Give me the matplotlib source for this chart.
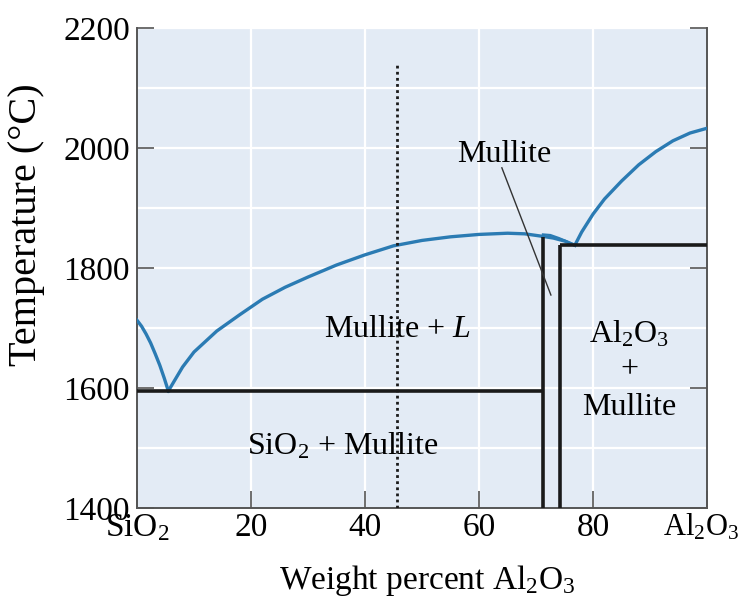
import matplotlib
matplotlib.use("Agg")
import matplotlib.pyplot as plt
import numpy as np

# ---- data ----
liq_left_x = [0, 0.8, 1.6, 2.4, 3.2, 4.0, 4.8, 5.5]
liq_left_T = [1713, 1703, 1690, 1675, 1657, 1638, 1616, 1595]

liq_mid_x = [5.5, 8, 10, 14, 18, 22, 26, 30, 35, 40, 45, 50, 55, 60, 65, 68, 71, 73, 75, 76.8]
liq_mid_T = [1595, 1635, 1660, 1695, 1722, 1748, 1768, 1785, 1805, 1822, 1837, 1846, 1852, 1856, 1858, 1857, 1853, 1850, 1845, 1838]

hump_x = [71.2, 72.5, 74, 75.5, 76.8]
hump_T = [1856, 1855, 1850, 1844, 1838]

liq_right_x = [76.8, 78, 80, 82, 85, 88, 91, 94, 97, 100]
liq_right_T = [1838, 1860, 1890, 1915, 1945, 1972, 1994, 2012, 2025, 2033]

eutectic1_x = [0, 71.2]
eutectic1_T = [1595, 1595]
mullite_left_x = [71.2, 71.2]
mullite_left_T = [1400, 1852]
mullite_right_x = [74.2, 74.2]
mullite_right_T = [1400, 1838]
eutectic2_x = [74.2, 100]
eutectic2_T = [1838, 1838]

dotted_x = [45.6, 45.6]
dotted_T = [1400, 2138]

pointer_x = [64.0, 72.6]
pointer_T = [1967, 1755]

xticks = [0, 20, 40, 60, 80, 100]
xticklabels = ["SiO$_2$", "20", "40", "60", "80", "Al$_2$O$_3$"]
yticks = [1400, 1600, 1800, 2000, 2200]
ygrid_minor = [1500, 1700, 1900, 2100]

# ---- style ----
plt.rcParams['font.family'] = ['Liberation Serif', 'DejaVu Serif']
plt.rcParams['mathtext.fontset'] = 'custom'
plt.rcParams['mathtext.rm'] = 'Liberation Serif'
plt.rcParams['mathtext.it'] = 'Liberation Serif:italic'

blue = '#2b7bb3'
bg = '#e3ebf5'
black = '#1a1a1a'
spine_c = '#555555'

fig = plt.figure(figsize=(7.42, 6.0), dpi=100)
ax = fig.add_axes([0.1846, 0.1533, 0.7684, 0.80])
ax.set_facecolor(bg)
ax.set_xlim(0, 100)
ax.set_ylim(1400, 2200)

# grid
for gx in [20, 40, 60, 80]:
    ax.axvline(gx, color='white', lw=1.6, zorder=0.5)
for gy in ygrid_minor + yticks[1:]:
    ax.axhline(gy, color='white', lw=1.6, zorder=0.5)

# curves
ax.plot(liq_left_x, liq_left_T, color=blue, lw=2.4, zorder=3)
ax.plot(liq_mid_x, liq_mid_T, color=blue, lw=2.4, zorder=3)
ax.plot(hump_x, hump_T, color=blue, lw=1.6, zorder=3)
ax.plot(liq_right_x, liq_right_T, color=blue, lw=2.4, zorder=3)

for xs, ts in [(eutectic1_x, eutectic1_T), (mullite_left_x, mullite_left_T),
               (mullite_right_x, mullite_right_T), (eutectic2_x, eutectic2_T)]:
    ax.plot(xs, ts, color=black, lw=2.6, solid_capstyle='butt', zorder=4)

ax.plot(dotted_x, dotted_T, color=black, lw=2.0, linestyle=(0, (1, 1.2)), zorder=4)
ax.plot(pointer_x, pointer_T, color='#333333', lw=1.0, zorder=4)

# labels
fs_in = 23
ax.text(64.5, 1990, "Mullite", ha='center', va='center', fontsize=fs_in, zorder=5)
ax.text(45.6, 1698, "Mullite + $\\mathit{L}$", ha='center', va='center', fontsize=fs_in, zorder=5)
ax.text(36.1, 1503, "SiO$_2$ + Mullite", ha='center', va='center', fontsize=fs_in, zorder=5)
ax.text(86.3, 1690, "Al$_2$O$_3$", ha='center', va='center', fontsize=fs_in, zorder=5)
ax.text(86.3, 1630, "+", ha='center', va='center', fontsize=fs_in, zorder=5)
ax.text(86.3, 1567, "Mullite", ha='center', va='center', fontsize=fs_in, zorder=5)

# axes
fs = 24
ax.set_xticks(xticks)
ax.set_xticklabels(xticklabels[:-1] + [""], fontsize=fs)
# last tick label nudged left so it stays inside the figure
ax.annotate(xticklabels[-1], xy=(xticks[-1], 0), xycoords=ax.get_xaxis_transform(),
            xytext=(-6, -4), textcoords='offset pixels', ha='center', va='top',
            fontsize=22, annotation_clip=False)
ax.set_yticks(yticks)
ax.set_yticklabels([str(v) for v in yticks], fontsize=fs)
ax.tick_params(axis='both', direction='in', length=12, width=1.2, color=spine_c, pad=4)
ax.tick_params(axis='x', pad=3)
ax.tick_params(axis='y', right=True, pad=5)
ax.spines['top'].set_visible(False)
for s in ['left', 'right', 'bottom']:
    ax.spines[s].set_color(spine_c)
    ax.spines[s].set_linewidth(1.4)

ax.set_xlabel("Weight percent Al$_2$O$_3$", fontsize=24)
ax.xaxis.set_label_coords(0.509, -0.115)
ax.xaxis.label.set_va('top')
ax.set_ylabel("Temperature (°C)", fontsize=29)
ax.yaxis.set_label_coords(-0.161, 0.59)

fig.savefig("out.png", dpi=100)
